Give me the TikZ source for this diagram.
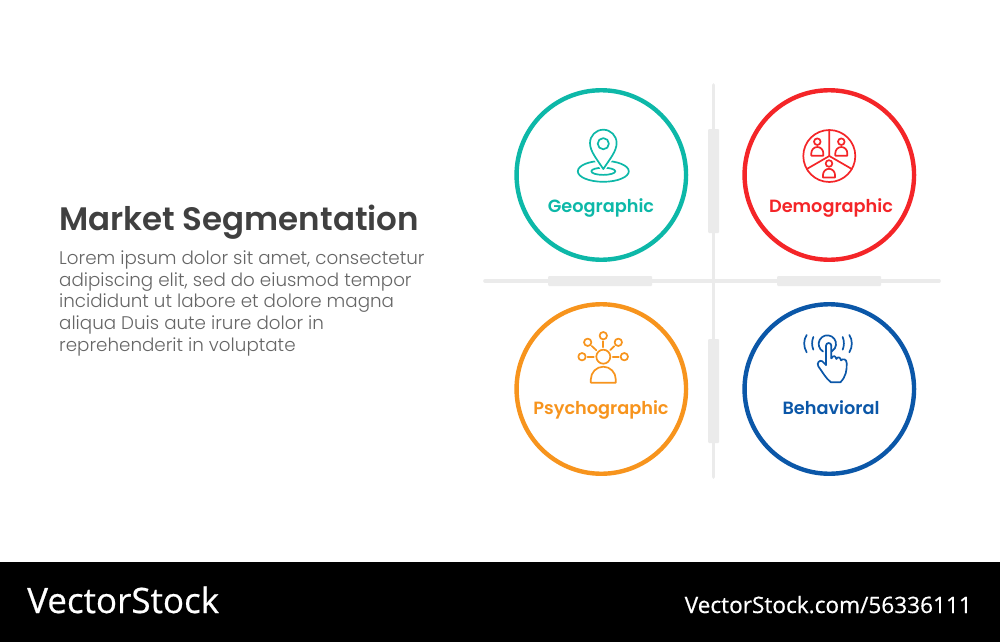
\documentclass[tikz,border=0pt]{standalone}
\usepackage{fontspec}
\setmainfont{Poppins}
\newfontfamily\semifont{Poppins SemiBold}
\newfontfamily\lightfont{Poppins Light}
\newfontfamily\logofont[FakeBold=0.5]{Open Sans}
\usetikzlibrary{calc}
\definecolor{cgeo}{HTML}{0DB8A8}
\definecolor{cdem}{HTML}{F42528}
\definecolor{cpsy}{HTML}{F7941D}
\definecolor{cbeh}{HTML}{0B57A8}
\definecolor{crossc}{HTML}{EBEBEB}
\definecolor{titlec}{HTML}{404040}
\definecolor{bodyc}{HTML}{666666}
\tikzset{
  ring/.style={circle,draw=#1,line width=4.4pt,minimum size=169.5pt,inner sep=0pt,fill=white},
  lab/.style={text=#1,font=\semifont\fontsize{17.7}{19}\selectfont,inner sep=0pt,anchor=base},
  ico/.style={draw=#1,line width=1.7pt,line cap=round,line join=round},
  crossline/.style={draw=crossc,line width=3.6pt,line cap=round},
  crossbar/.style={fill=crossc,rounded corners=1pt,draw=none}
}
\begin{document}
\begin{tikzpicture}[x=1pt,y=-1pt]
\useasboundingbox (0,0) rectangle (1000,642);
\fill[white] (0,0) rectangle (1000,642);
\fill[black] (0,562) rectangle (1000,642);
% cross
\coordinate (vt) at (713.5,85); \coordinate (vb) at (713.5,477);
\coordinate (hl) at (485,281); \coordinate (hr) at (939,281);
\draw[crossline] (vt) -- (vb);
\draw[crossline] (hl) -- (hr);
\fill[crossbar] (708,129) rectangle (719,233);
\fill[crossbar] (708,339) rectangle (719,443);
\fill[crossbar] (548,276) rectangle (652,286);
\fill[crossbar] (777,276) rectangle (881,286);
% rings
\node[ring=cgeo] (geo) at (601.3,175) {};
\node[ring=cdem] (dem) at (829.3,175) {};
\node[ring=cpsy] (psy) at (601.3,389) {};
\node[ring=cbeh] (beh) at (829.3,389) {};
\node[lab=cgeo] (lgeo) at (601,212) {Geographic};
\node[lab=cdem] (ldem) at (831,212) {Demographic};
\node[lab=cpsy] (lpsy) at (601,414) {Psychographic};
\node[lab=cbeh] (lbeh) at (831,414) {Behavioral};
% pin icon
\draw[ico=cgeo] (603.3,171.3) ellipse [x radius=25.5,y radius=10.5];
\draw[ico=cgeo] (603.3,171.3) ellipse [x radius=12,y radius=3.6];
\path[fill=white,draw=white,line width=5pt] (603.3,168.5) .. controls (596,158) and (590,151) .. (590,143) arc [start angle=180,end angle=360,radius=13.3] .. controls (616.6,151) and (610.6,158) .. cycle;
\draw[ico=cgeo] (603.3,169) .. controls (596,158) and (590,151) .. (590,143) arc [start angle=180,end angle=360,radius=13.3] .. controls (616.6,151) and (610.6,158) .. cycle;
\draw[ico=cgeo] (603.3,143.7) circle [radius=5.6];
% demographic icon
\draw[ico=cdem] (829.3,156) circle [radius=26];
\draw[ico=cdem] (829.3,130) -- (829.3,156) -- (806.8,169);
\draw[ico=cdem] (829.3,156) -- (851.8,169);
\foreach \hx/\hy in {817.3/141.7,841.3/141.7,829/163.5}{
  \draw[ico=cdem] (\hx,\hy) circle [radius=3.3];
  \draw[ico=cdem] (\hx-6,\hy+14) -- (\hx-6,\hy+11.5) arc [start angle=180,end angle=360,x radius=6,y radius=6.2] -- (\hx+6,\hy+14) -- cycle;
}
% psychographic icon
\draw[ico=cpsy] (603.3,356.7) circle [radius=7];
\foreach \sx/\sy in {603.3/335.7,587.7/342.3,618.3/342.3,582/356.7,624.3/356.7}{
  \draw[ico=cpsy] (\sx,\sy) circle [radius=3.7];
  \path (603.3,356.7) coordinate (cc) (\sx,\sy) coordinate (ss);
  \draw[ico=cpsy] ($(cc)!9.5pt!(ss)$) -- ($(ss)!5.5pt!(cc)$);
}
\draw[ico=cpsy] (590.8,382.7) -- (590.8,379.5) arc [start angle=180,end angle=360,x radius=12.5,y radius=12.8] -- (615.8,382.7) -- cycle;
% behavioral icon
\begin{scope}[shift={(795,325)},x=0.3333pt,y=-0.3333pt]
\draw[ico=cbeh] (84,79.5) arc [start angle=120,end angle=420,radius=26];
\draw[ico=cbeh] (35,30) .. controls (25,45) and (25,65) .. (35,82);
\draw[ico=cbeh] (55,36) .. controls (50,48) and (50,62) .. (55,74);
\draw[ico=cbeh] (143,36) .. controls (148,48) and (148,62) .. (143,74);
\draw[ico=cbeh] (163,30) .. controls (173,45) and (173,65) .. (163,82);
\draw[ico=cbeh] (93,120) -- (93,62) arc [start angle=180,end angle=360,radius=8] -- (109,100);
\draw[ico=cbeh] (109,100) .. controls (115,90) and (122,92) .. (124,102) .. controls (128,94) and (136,96) .. (138,106) .. controls (144,100) and (155,102) .. (155,114) .. controls (156,135) and (153,155) .. (136,172) -- (108,172) .. controls (92,160) and (82,140) .. (70,124) .. controls (64,114) and (74,103) .. (82,109) -- (93,120);
\end{scope}
% texts
\node[anchor=base west,inner sep=0pt,text=titlec,font=\semifont\fontsize{32.5}{34}\selectfont] (title) at (59,230) {Market Segmentation};
\node[anchor=north west,inner sep=0pt,text=bodyc,align=left,font=\lightfont\fontsize{18.3}{21.75}\selectfont] (body) at (59,250.5) {Lorem ipsum dolor sit amet, consectetur\\adipiscing elit, sed do eiusmod tempor\\incididunt ut labore et dolore magna\\aliqua Duis aute irure dolor in\\reprehenderit in voluptate};
\node[anchor=base west,inner sep=0pt,text=white,font=\logofont\fontsize{35}{37}\selectfont] (logo) at (27,613) {VectorStock};
\node[anchor=base east,inner sep=0pt,text=white,font=\logofont\fontsize{22.6}{25}\selectfont] (url) at (972,613) {VectorStock.com/56336111};
\end{tikzpicture}
\end{document}
